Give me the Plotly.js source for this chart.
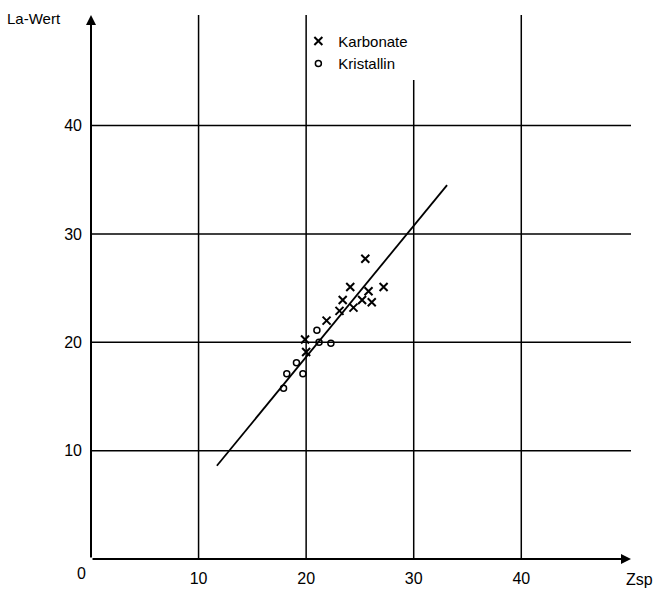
<!DOCTYPE html>
<html>
<head>
<meta charset="utf-8">
<script src="https://cdn.plot.ly/plotly-3.0.1.min.js"></script>
<style>html,body{margin:0;padding:0;background:#fff;}#chart{width:659px;height:591px;}</style>
</head>
<body>
<div id="chart"></div>
<script>
// Karbonate (crosses)
const karbX = [25.5, 24.1, 27.2, 25.8, 23.4, 25.2, 26.1, 23.1, 24.4, 21.9, 19.9, 20.0];
const karbY = [27.7, 25.1, 25.1, 24.7, 23.9, 23.9, 23.7, 22.9, 23.2, 22.0, 20.25, 19.1];
// Kristallin (circles)
const kristX = [21.0, 21.2, 22.3, 19.1, 18.2, 19.7, 17.9];
const kristY = [21.1, 20.0, 19.9, 18.1, 17.1, 17.1, 15.75];
// regression line end points
const lineX = [11.7, 33.1];
const lineY = [8.6, 34.5];
// ticks
const xTicks = [10, 20, 30, 40];
const yTicks = [10, 20, 30, 40];

const XMAX = 50.2, YMAX = 50.2;
const FONT = "Liberation Sans, Arial, sans-serif";

const shapes = [];
xTicks.forEach(v => {
  shapes.push({type:'line', xref:'x', yref:'y', x0:v, x1:v, y0:0, y1:(v===30?44.2:YMAX),
    line:{color:'#000', width:1.5}});
});
yTicks.forEach(v => {
  shapes.push({type:'line', xref:'x', yref:'y', x0:0, x1:XMAX, y0:v, y1:v,
    line:{color:'#000', width:1.5}});
});

const annotations = [
  {xref:'x', yref:'y', axref:'x', ayref:'y', x:0, y:YMAX, ax:0, ay:0, text:'', showarrow:true,
   arrowhead:2, arrowsize:1, arrowwidth:2, arrowcolor:'#000'},
  {xref:'x', yref:'y', axref:'x', ayref:'y', x:XMAX, y:0, ax:0, ay:0, text:'', showarrow:true,
   arrowhead:2, arrowsize:1, arrowwidth:2, arrowcolor:'#000'},
  {xref:'x', yref:'y', x:0, y:0, xshift:-10, yshift:-14, text:'0', showarrow:false,
   font:{family:FONT, size:16, color:'#000'}},
  {xref:'paper', yref:'paper', x:1, y:0, xshift:8, yshift:-20, xanchor:'center', yanchor:'middle',
   text:'Zsp', showarrow:false, font:{family:FONT, size:16, color:'#000'}},
  {xref:'paper', yref:'paper', x:0, y:1, xshift:-57, yshift:-3, xanchor:'center', yanchor:'middle',
   text:'La-Wert', showarrow:false, font:{family:FONT, size:15, color:'#000'}}
];

const data = [
  {x:karbX, y:karbY, type:'scatter', mode:'markers', name:'Karbonate',
   marker:{symbol:'x-thin-open', size:8, color:'#000', line:{color:'#000', width:2}}},
  {x:kristX, y:kristY, type:'scatter', mode:'markers', name:'Kristallin',
   marker:{symbol:'circle-open', size:6, color:'#000', line:{color:'#000', width:1.5}}},
  {x:lineX, y:lineY, type:'scatter', mode:'lines', showlegend:false,
   line:{color:'#000', width:1.8}}
];

const layout = {
  width:659, height:591,
  margin:{l:91, r:28, t:15, b:32},
  paper_bgcolor:'#fff', plot_bgcolor:'#fff',
  font:{family:FONT, size:16, color:'#000'},
  showlegend:true,
  legend:{x:0.384, y:0.982, xanchor:'left', yanchor:'top', bgcolor:'rgba(255,255,255,0)',
    font:{family:FONT, size:15, color:'#000'}, tracegroupgap:0},
  xaxis:{range:[0, XMAX], showgrid:false, zeroline:false, showline:false,
    tickvals:xTicks, ticks:'', ticklabelstandoff:8, tickfont:{family:FONT, size:16}},
  yaxis:{range:[0, YMAX], showgrid:false, zeroline:false, showline:false,
    tickvals:yTicks, ticks:'', ticklabelstandoff:8, tickfont:{family:FONT, size:16}},
  shapes:shapes,
  annotations:annotations
};

Plotly.newPlot('chart', data, layout, {displayModeBar:false, staticPlot:true});
</script>
</body>
</html>
